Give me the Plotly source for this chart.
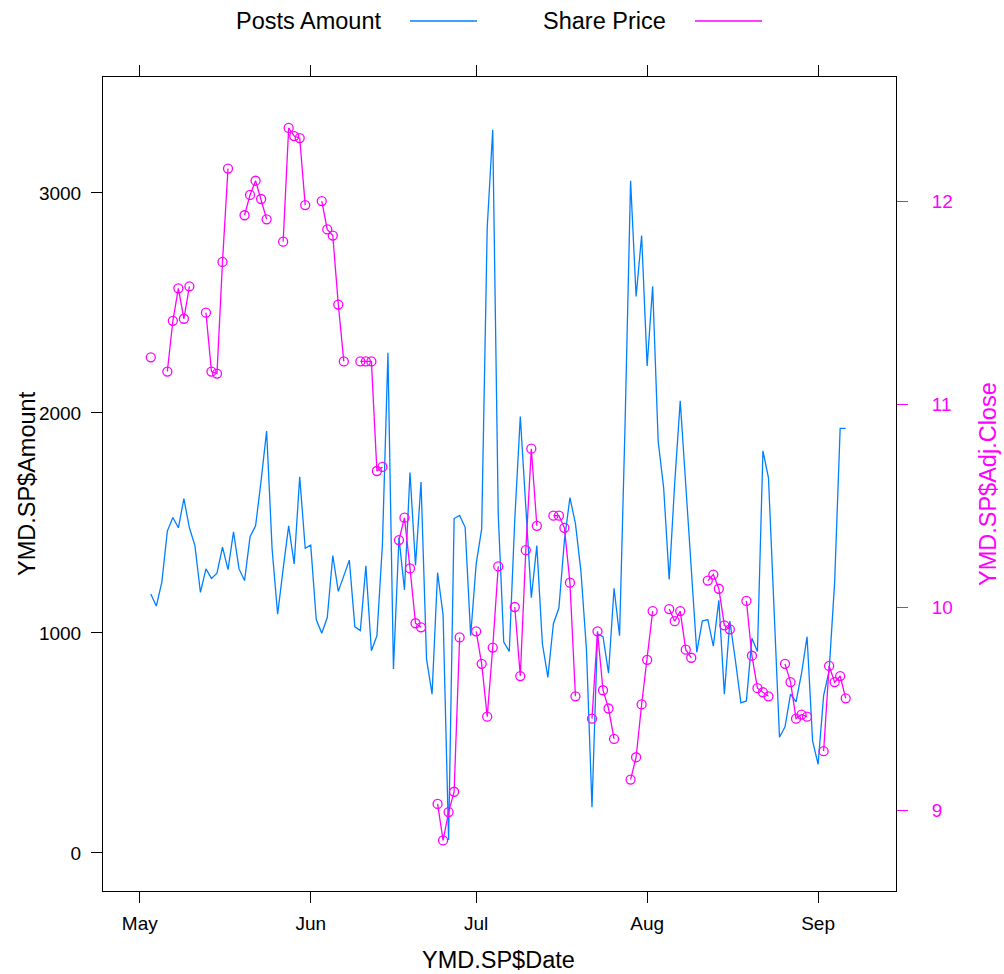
import pandas as pd
import plotly.graph_objects as go

# Daily observations, 2013-05-03 .. 2013-09-06
dates = pd.date_range("2013-05-03", "2013-09-06", freq="D")

# Number of posts per day
amount = [
    1177, 1122, 1231, 1463, 1525, 1478, 1610, 1478, 1397, 1184,
    1291, 1248, 1272, 1390, 1288, 1459, 1291, 1238, 1437, 1487,
    1691, 1918, 1381, 1085, 1291, 1487, 1314, 1710, 1385, 1399,
    1061, 999, 1070, 1352, 1189, 1260, 1331, 1028, 1011, 1305,
    919, 987, 1402, 2273, 836, 1433, 1196, 1729, 1307, 1686,
    881, 722, 1274, 1082, 59, 1520, 1534, 1480, 987, 1314,
    1473, 2842, 3287, 1538, 959, 916, 1516, 1984, 1563, 1160,
    1397, 952, 798, 1042, 1113, 1421, 1615, 1497, 1279, 924,
    208, 995, 983, 817, 1203, 987, 1950, 3055, 2529, 2806,
    2214, 2576, 1871, 1658, 1243, 1681, 2055, 1681, 1326, 912,
    1054, 1061, 940, 1148, 722, 1054, 876, 682, 691, 976,
    916, 1828, 1705, 1113, 526, 573, 722, 687, 817, 983,
    509, 403, 715, 829, 1231, 1930, 1930,
]

# Adjusted close; None on days without trading (weekends)
N = None
adj_close = [
    11.23, N, N,
    11.16, 11.41, 11.57, 11.42, 11.58, N, N,
    11.45, 11.16, 11.15, 11.70, 12.16, N, N,
    11.93, 12.03, 12.10, 12.01, 11.91, N, N,
    11.80, 12.36, 12.32, 12.31, 11.98, N, N,
    12.00, 11.86, 11.83, 11.49, 11.21, N, N,
    11.21, 11.21, 11.21, 10.67, 10.69, N, N,
    10.33, 10.44, 10.19, 9.92, 9.90, N, N,
    9.03, 8.85, 8.99, 9.09, 9.85, N, N,
    9.88, 9.72, 9.46, 9.80, 10.20, N, N,
    10.00, 9.66, 10.28, 10.78, 10.40, N, N,
    10.45, 10.45, 10.39, 10.12, 9.56, N, N,
    9.45, 9.88, 9.59, 9.50, 9.35, N, N,
    9.15, 9.26, 9.52, 9.74, 9.98, N, N,
    9.99, 9.93, 9.98, 9.79, 9.75, N, N,
    10.13, 10.16, 10.09, 9.91, 9.89, N, N,
    10.03, 9.76, 9.60, 9.58, 9.56, N, N,
    9.72, 9.63, 9.45, 9.47, 9.46, N, N,
    9.29, 9.71, 9.63, 9.66, 9.55,
]

month_ticks = ["2013-05-01", "2013-06-01", "2013-07-01", "2013-08-01", "2013-09-01"]
month_labels = ["May", "Jun", "Jul", "Aug", "Sep"]
amount_ticks = [0, 1000, 2000, 3000]
price_ticks = [9, 10, 11, 12]

BLUE = "#0080ff"
MAGENTA = "#ff00ff"
FONT = "Liberation Sans, Arial, sans-serif"

fig = go.Figure()

fig.add_trace(go.Scatter(
    x=dates, y=amount, mode="lines", name="Posts Amount",
    line=dict(color=BLUE, width=1.3), yaxis="y",
))

fig.add_trace(go.Scatter(
    x=dates, y=adj_close, mode="lines+markers", name="Share Price",
    line=dict(color=MAGENTA, width=1.3), connectgaps=False,
    marker=dict(symbol="circle-open", size=9, color=MAGENTA,
                line=dict(color=MAGENTA, width=1.3)),
    yaxis="y2",
))

L, R, T, B = 103, 896, 77, 891
W, H = 1004, 974


def px_x(px):
    return (px - L) / (R - L)


def px_y(py):
    return (B - py) / (B - T)


# Key above the panel: label text followed by a line sample
legend_y = px_y(21)
for label, right_px, seg, color in [
    ("Posts Amount", 383, (410, 477), BLUE),
    ("Share Price", 668, (695, 762), MAGENTA),
]:
    fig.add_annotation(
        x=px_x(right_px), y=legend_y, xref="paper", yref="paper",
        text=label, showarrow=False, xanchor="right", yanchor="middle",
        font=dict(size=23.5, color="black", family=FONT),
    )
    fig.add_shape(
        type="line", xref="paper", yref="paper",
        x0=px_x(seg[0]), x1=px_x(seg[1]), y0=legend_y, y1=legend_y,
        line=dict(color=color, width=1.3),
    )

# Axis titles
title_font = dict(size=23.5, family=FONT, color="black")
fig.add_annotation(x=px_x(498), y=px_y(960), xref="paper", yref="paper",
                   text="YMD.SP$Date", showarrow=False,
                   xanchor="center", yanchor="middle", font=title_font)
fig.add_annotation(x=px_x(27), y=px_y(484), xref="paper", yref="paper",
                   text="YMD.SP$Amount", showarrow=False, textangle=-90,
                   xanchor="center", yanchor="middle", font=title_font)
fig.add_annotation(x=px_x(988), y=px_y(484), xref="paper", yref="paper",
                   text="YMD.SP$Adj.Close", showarrow=False, textangle=-90,
                   xanchor="center", yanchor="middle",
                   font=dict(size=23.5, family=FONT, color=MAGENTA))

fig.update_layout(
    width=W, height=H, autosize=False,
    margin=dict(l=L, r=W - R, t=T, b=H - B, pad=0),
    paper_bgcolor="white", plot_bgcolor="white",
    showlegend=False,
    font=dict(family=FONT, color="black"),
    xaxis=dict(
        type="date",
        range=["2013-04-24 08:00", "2013-09-15 03:00"],
        tickmode="array", tickvals=month_ticks, ticktext=month_labels,
        ticks="outside", ticklen=11, tickwidth=1, tickcolor="black",
        showline=True, linecolor="black", linewidth=1, mirror="ticks",
        showgrid=False, zeroline=False,
        tickfont=dict(size=19, family=FONT),
        ticklabelstandoff=4,
    ),
    yaxis=dict(
        range=[-173, 3527],
        tickmode="array", tickvals=amount_ticks,
        ticks="outside", ticklen=11, tickwidth=1, tickcolor="black",
        showline=True, linecolor="black", linewidth=1, mirror=False,
        showgrid=False, zeroline=False,
        tickfont=dict(size=19, family=FONT),
        ticklabelposition="outside",
        ticklabelstandoff=6,
    ),
    yaxis2=dict(
        overlaying="y", side="right",
        range=[8.601, 12.611],
        tickmode="array", tickvals=price_ticks,
        ticks="outside", ticklen=11, tickwidth=1, tickcolor=MAGENTA,
        showline=True, linecolor="black", linewidth=1,
        showgrid=False, zeroline=False,
        tickfont=dict(size=19, family=FONT, color=MAGENTA),
        ticklabelposition="outside",
        ticklabelstandoff=20,
    ),
)

fig.write_html("out.html")
